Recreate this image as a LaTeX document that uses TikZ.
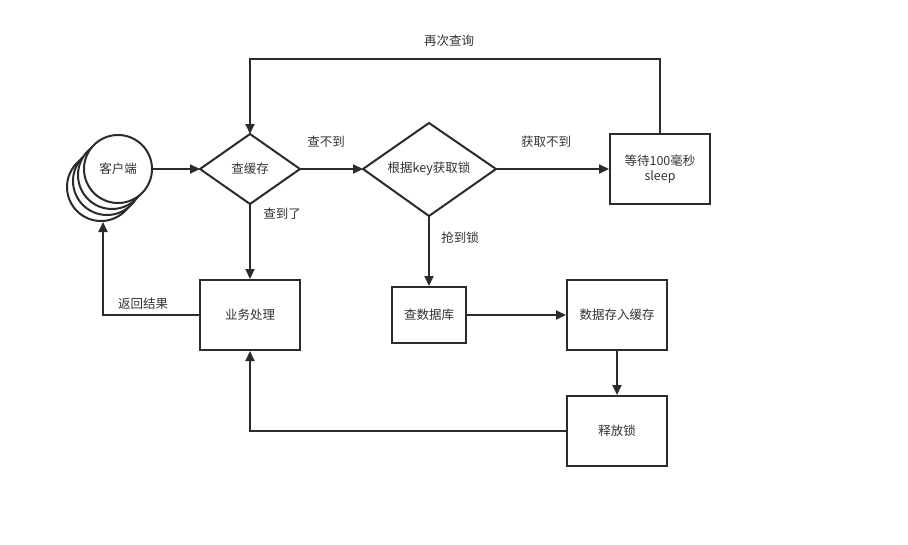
\documentclass[tikz,border=0pt]{standalone}
\usepackage{fontspec}
\setmainfont{Noto Sans CJK SC}
\usetikzlibrary{arrows.meta}
\definecolor{ln}{HTML}{2B2B2B}
\definecolor{txt}{HTML}{333333}
\begin{document}
\begin{tikzpicture}[x=1pt,y=-1pt,
  every node/.style={font=\fontsize{12.5}{15}\selectfont, text=txt},
  box/.style={draw=ln, line width=2pt, fill=white, inner sep=0pt, minimum width=100pt, minimum height=70pt, align=center},
  ring/.style={circle, draw=ln, line width=2pt, fill=white, minimum size=68pt, inner sep=0pt},
  shape line/.style={draw=ln, line width=2pt, fill=white, line join=miter},
  conn/.style={draw=ln, line width=2pt, -{Triangle[length=10pt,width=9pt]}},
  lbl/.style={inner sep=1pt}]
\useasboundingbox (0,0) rectangle (908,544);

% client (stacked circles)
\node[ring] (c3) at (101,187) {};
\node[ring] (c2) at (107,181) {};
\node[ring] (c1) at (112,175) {};
\node[ring] (client) at (118,169) {客户端};

% diamond 1
\coordinate (d1w) at (200,169);
\coordinate (d1n) at (250,134);
\coordinate (d1e) at (300,169);
\coordinate (d1s) at (250,204);
\draw[shape line] (d1w) -- (d1n) -- (d1e) -- (d1s) -- cycle;
\node (d1) at (250,169) {查缓存};

% diamond 2
\coordinate (d2w) at (363,169);
\coordinate (d2n) at (429,123);
\coordinate (d2e) at (496,169);
\coordinate (d2s) at (429,216);
\draw[shape line] (d2w) -- (d2n) -- (d2e) -- (d2s) -- cycle;
\node (d2) at (429,169) {根据key获取锁};

% boxes
\node[box] (sleep) at (660,169) {等待100毫秒\\sleep};
\node[box] (biz) at (250,315) {业务处理};
\node[box, minimum width=74pt, minimum height=56pt] (db) at (429,315) {查数据库};
\node[box] (store) at (617,315) {数据存入缓存};
\node[box] (unlock) at (617,431) {释放锁};

% connectors
\draw[conn] (client.east) -- (d1w);
\draw[conn] (d1e) -- (d2w);
\draw[conn] (d2e) -- (sleep.west);
\coordinate (loopR) at (660,59);
\coordinate (loopL) at (250,59);
\draw[conn] (sleep.north) -- (loopR) -- (loopL) -- (d1n);
\draw[conn] (d1s) -- (biz.north);
\coordinate (retC) at (103,315);
\coordinate (retE) at (103,222);
\draw[conn] (biz.west) -- (retC) -- (retE);
\draw[conn] (d2s) -- (db.north);
\draw[conn] (db.east) -- (store.west);
\draw[conn] (store.south) -- (unlock.north);
\coordinate (relC) at (250,431);
\draw[conn] (unlock.west) -- (relC) -- (biz.south);

% labels
\node[lbl] at (326,142) {查不到};
\node[lbl] at (546,142) {获取不到};
\node[lbl] at (449,41) {再次查询};
\node[lbl] at (282,214) {查到了};
\node[lbl] at (143,304) {返回结果};
\node[lbl] at (460,238) {抢到锁};
\end{tikzpicture}
\end{document}
